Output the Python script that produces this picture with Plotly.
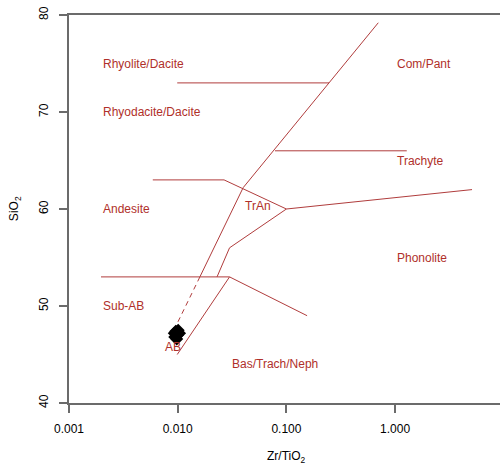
import numpy as np
import plotly.graph_objects as go

# ---- Field boundaries (Zr/TiO2, SiO2) ----
rhyolite_x = [0.0099, 0.247]
rhyolite_y = [73.0, 73.0]

main_diag_x = [0.70, 0.040, 0.016]
main_diag_y = [79.2, 62.2, 53.0]

main_dash_x = [0.016, 0.0094]
main_dash_y = [53.0, 47.7]

trachyte_x = [0.0785, 1.28]
trachyte_y = [66.0, 66.0]

andesite_x = [0.0059, 0.0267, 0.10]
andesite_y = [63.0, 63.0, 60.0]

phonolite_x = [0.10, 5.1]
phonolite_y = [60.0, 62.0]

tran_x = [0.10, 0.030, 0.023]
tran_y = [60.0, 56.0, 53.0]

subab_x = [0.00197, 0.030]
subab_y = [53.0, 53.0]

ab_x = [0.030, 0.0099]
ab_y = [53.0, 45.0]

bas_x = [0.030, 0.155]
bas_y = [53.0, 49.0]

solid_lines = [
    (rhyolite_x, rhyolite_y), (main_diag_x, main_diag_y), (trachyte_x, trachyte_y),
    (andesite_x, andesite_y), (phonolite_x, phonolite_y), (tran_x, tran_y),
    (subab_x, subab_y), (ab_x, ab_y), (bas_x, bas_y),
]

# ---- Field labels ----
label_text = ["Rhyolite/Dacite", "Rhyodacite/Dacite", "Andesite", "Sub-AB", "Com/Pant",
              "Trachyte", "Phonolite", "TrAn", "AB", "Bas/Trach/Neph"]
label_x = [0.00197, 0.00197, 0.00197, 0.00197, 1.0, 1.0, 1.0, 0.040, 0.0073, 0.030]
label_y = [75.0, 70.0, 60.0, 50.0, 74.9, 65.0, 54.9, 60.3, 45.8, 44.0]

# ---- Samples ----
sample_x = [0.0096, 0.0100, 0.0094, 0.0104, 0.0098, 0.0101, 0.0093]
sample_y = [47.4, 47.0, 46.8, 47.2, 46.6, 47.5, 47.2]

# ---- Axes ----
x_ticks = [0.001, 0.01, 0.1, 1.0]
x_ticktext = ["0.001", "0.010", "0.100", "1.000"]
y_ticks = [40, 50, 60, 70, 80]

line_col = "#B03C3C"
text_col = "#B0302A"
axis_col = "#6b6b6b"
font_fam = "Liberation Sans, Arial, sans-serif"

fig = go.Figure()
for xs, ys in solid_lines:
    fig.add_trace(go.Scatter(x=xs, y=ys, mode="lines",
                             line=dict(color=line_col, width=1), hoverinfo="skip"))
fig.add_trace(go.Scatter(x=main_dash_x, y=main_dash_y, mode="lines",
                         line=dict(color=line_col, width=1, dash="5px,4px"), hoverinfo="skip"))
fig.add_trace(go.Scatter(x=sample_x, y=sample_y, mode="markers",
                         marker=dict(symbol="diamond", size=10, color="black",
                                     line=dict(width=0))))

for t, x, y in zip(label_text, label_x, label_y):
    fig.add_annotation(x=np.log10(x), y=y, xref="x", yref="y", text=t, showarrow=False,
                       xanchor="left", yanchor="middle",
                       font=dict(family=font_fam, size=12, color=text_col))

# plot area is 431 x 388 px
fig.add_annotation(xref="paper", yref="paper", x=0.5035, y=-0.138,
                   text="Zr/TiO<sub>2</sub>", showarrow=False, xanchor="center", yanchor="middle",
                   font=dict(family=font_fam, size=12, color="black"))
fig.add_annotation(xref="paper", yref="paper", x=-0.125, y=0.5,
                   text="SiO<sub>2</sub>", showarrow=False, textangle=-90,
                   xanchor="center", yanchor="middle",
                   font=dict(family=font_fam, size=12, color="black"))

fig.update_layout(
    width=500, height=466,
    margin=dict(l=69, r=0, t=15, b=63, autoexpand=False),
    paper_bgcolor="white", plot_bgcolor="white",
    showlegend=False,
    xaxis=dict(type="log", range=[-3, 0.965], tickvals=x_ticks, ticktext=x_ticktext,
               ticks="outside", ticklen=8, tickwidth=1.5, tickcolor=axis_col,
               showline=True, linecolor=axis_col, linewidth=1.5, mirror=True,
               showgrid=False, zeroline=False, automargin=False,
               ticklabelstandoff=6,
               tickfont=dict(family=font_fam, size=12, color="black")),
    yaxis=dict(range=[40, 80], tickvals=y_ticks, ticks="outside", ticklen=8,
               tickwidth=1.5, tickcolor=axis_col, tickangle=-90,
               showline=True, linecolor=axis_col, linewidth=1.5, mirror=False,
               showgrid=False, zeroline=False, automargin=False,
               ticklabelstandoff=6,
               tickfont=dict(family=font_fam, size=12, color="black")),
)

fig.write_html("out.html", config={"displayModeBar": False},
               post_script="document.body.style.margin='0px';")
